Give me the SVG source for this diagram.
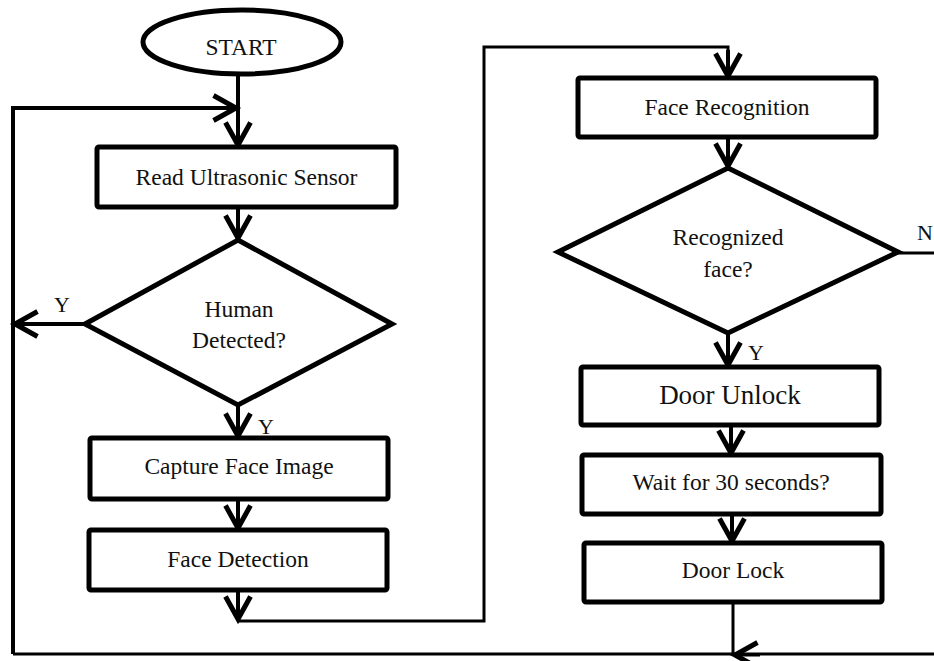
<svg xmlns="http://www.w3.org/2000/svg" width="934" height="661" viewBox="0 0 934 661">
<style>
.n{fill:#fff;stroke:#000;stroke-width:5;stroke-linejoin:miter}
.t{font-family:"Liberation Serif","Times New Roman",serif;font-size:23.5px;fill:#111;text-anchor:middle}
.big{font-size:27px}
.lbl{font-family:"Liberation Serif","Times New Roman",serif;font-size:22px;fill:#111}
.c{fill:none;stroke:#000;stroke-width:4}
.c3{fill:none;stroke:#000;stroke-width:3}
.ah{fill:none;stroke:#000;stroke-width:4;stroke-linecap:butt;stroke-linejoin:miter}
</style>
<defs>
<marker id="arr" markerUnits="userSpaceOnUse" markerWidth="30" markerHeight="30" viewBox="-20 -12 24 24" refX="0" refY="0" orient="auto" overflow="visible">
<path d="M-18,-10 L0,0 L-18,10" fill="none" stroke="#000" stroke-width="4"/>
</marker>
</defs>
<rect width="934" height="661" fill="#fff"/>
<g id="connectors">
<path class="c" d="M238,76 V145" marker-end="url(#arr)"/>
<path class="c" d="M13,654 V108 H236" marker-end="url(#arr)"/>
<path class="c" d="M238,207 V238" marker-end="url(#arr)"/>
<path class="c" d="M85,324 H15" marker-end="url(#arr)"/>
<path class="c" d="M238,405 V436" marker-end="url(#arr)"/>
<path class="c" d="M238,499 V528" marker-end="url(#arr)"/>
<path class="c" d="M238,590 V619" marker-end="url(#arr)"/>
<path class="c3" d="M238,621 H484 V47 H728 V76" />
<path class="c" d="M728,50 V76" marker-end="url(#arr)"/>
<path class="c" d="M728,137 V166" marker-end="url(#arr)"/>
<path class="c" d="M728,333 V365" marker-end="url(#arr)"/>
<path class="c" d="M731,425 V453" marker-end="url(#arr)"/>
<path class="c" d="M732,514 V541" marker-end="url(#arr)"/>
<path class="c3" d="M733,602 V655"/>
<path class="c3" d="M898,253 H940"/>
<path class="c3" d="M940,654 H13"/>
<path class="c3" d="M760,655 H735" marker-end="url(#arr)"/>
<text class="lbl" x="62" y="312" text-anchor="middle">Y</text>
<text class="lbl" x="258" y="434">Y</text>
<text class="lbl" x="748" y="360">Y</text>
<text class="lbl" x="917" y="240">N</text>
</g>
<g id="start">
<ellipse class="n" cx="242" cy="42" rx="99" ry="32" stroke-width="4.5"/>
<text class="t" x="241" y="55">START</text>
</g>
<g id="read-sensor">
<rect class="n" x="97" y="147" width="299" height="60" rx="2"/>
<text class="t" x="246.5" y="185">Read Ultrasonic Sensor</text>
</g>
<g id="human-detected">
<polygon class="n" points="238,240 392,324 238,405 85,324"/>
<text class="t" x="239" y="317">Human</text>
<text class="t" x="239" y="348">Detected?</text>
</g>
<g id="capture-face">
<rect class="n" x="90" y="438" width="298" height="61" rx="2"/>
<text class="t" x="239" y="474">Capture Face Image</text>
</g>
<g id="face-detection">
<rect class="n" x="89" y="530" width="298" height="60" rx="2"/>
<text class="t" x="238" y="567">Face Detection</text>
</g>
<g id="face-recognition">
<rect class="n" x="578" y="78" width="298" height="59" rx="2"/>
<text class="t" x="727" y="115">Face Recognition</text>
</g>
<g id="recognized-face">
<polygon class="n" points="728,168 898,252 728,333 558,252"/>
<text class="t" x="728" y="245">Recognized</text>
<text class="t" x="728" y="277">face?</text>
</g>
<g id="door-unlock">
<rect class="n" x="581" y="367" width="298" height="58" rx="2"/>
<text class="t big" x="730" y="404">Door Unlock</text>
</g>
<g id="wait">
<rect class="n" x="582" y="455" width="299" height="59" rx="2"/>
<text class="t" x="731" y="490">Wait for 30 seconds?</text>
</g>
<g id="door-lock">
<rect class="n" x="584" y="543" width="298" height="59" rx="2"/>
<text class="t" x="733" y="578">Door Lock</text>
</g>
</svg>
